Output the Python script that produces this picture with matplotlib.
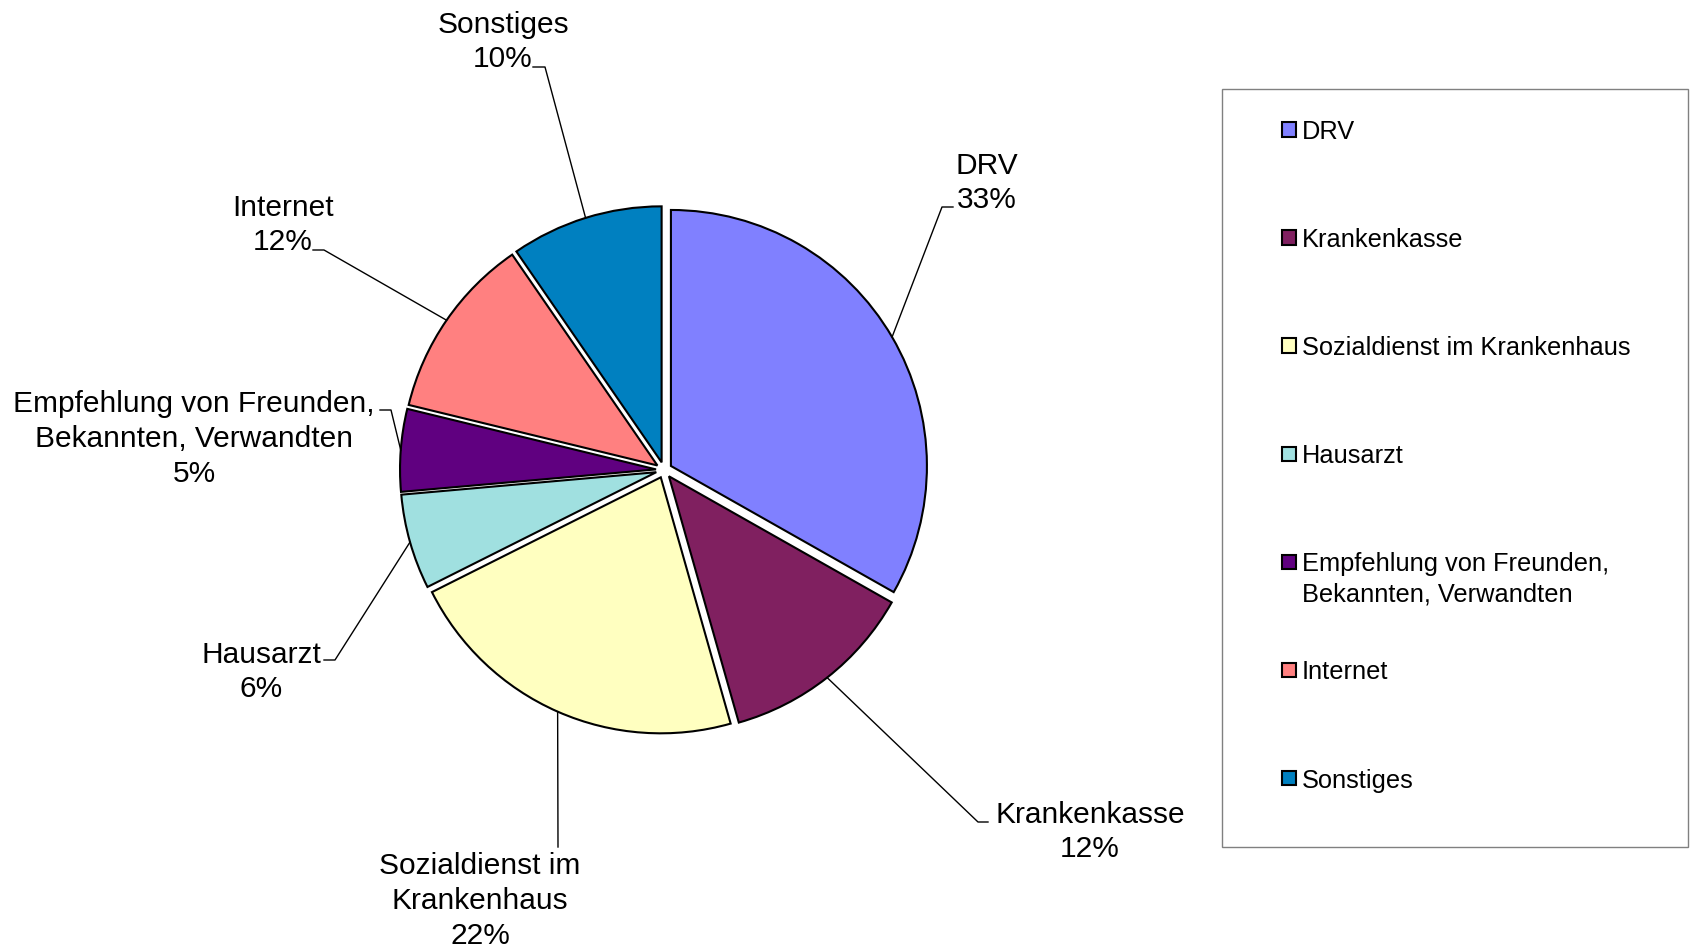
import numpy as np
import matplotlib.pyplot as plt
import matplotlib.patches as mpatches
from matplotlib.legend_handler import HandlerPatch

plt.rcParams['font.family'] = ['Liberation Sans', 'DejaVu Sans']

# Daten: Wie wurden die Teilnehmer aufmerksam? (Anteile in Prozent, aus dem Bild geschaetzt)
kategorien = ['DRV', 'Krankenkasse', 'Sozialdienst im Krankenhaus', 'Hausarzt',
              'Empfehlung von Freunden, Bekannten, Verwandten', 'Internet', 'Sonstiges']
anteile = [33.2, 12.4, 22.0, 6.0, 5.2, 11.6, 9.6]
farben = ['#8080FF', '#802060', '#FFFFC0', '#A0E0E0', '#600080', '#FF8080', '#0080C0']

# Beschriftungen mit Zeilenumbruechen wie im Original
beschriftungen = ['DRV', 'Krankenkasse', 'Sozialdienst im\nKrankenhaus', 'Hausarzt',
                  'Empfehlung von Freunden,\nBekannten, Verwandten', 'Internet', 'Sonstiges']
legenden_texte = ['DRV', 'Krankenkasse', 'Sozialdienst im Krankenhaus', 'Hausarzt',
                  'Empfehlung von Freunden,\nBekannten, Verwandten', 'Internet', 'Sonstiges']

# Layout in Pixeln (y von oben gemessen)
W, H = 1692, 948
text_pos = [(987, 183), (1090, 832), (480, 901), (261, 672), (194, 439), (283, 225), (503, 42)]
ticks = [((953, 207), (942, 207)), ((988, 822), (978, 822)), ((558, 847), (558, 847)),
         ((324, 660), (335, 660)), ((380, 410), (391, 410)), ((313, 250), (324, 250)),
         ((533, 67), (545, 67))]

fig = plt.figure(figsize=(16.92, 9.48), dpi=100)
ax = fig.add_axes([0, 0, 1, 1])

wedges, _ = ax.pie(anteile, colors=farben, startangle=90, counterclock=False,
                   explode=[8] * len(anteile), radius=256, center=(664, H - 470),
                   wedgeprops=dict(edgecolor='black', linewidth=1.5))
ax.set_xlim(0, W)
ax.set_ylim(0, H)
ax.set_aspect('equal')
ax.axis('off')

summe = sum(anteile)
for w, lab, val, (tx, ty), (p0, p1) in zip(wedges, beschriftungen, anteile, text_pos, ticks):
    ax.text(tx, H - ty, f'{lab}\n{val / summe * 100:.0f}%', ha='center', va='center',
            fontsize=21.5, linespacing=1.3, multialignment='center')
    mitte = np.deg2rad((w.theta1 + w.theta2) / 2)
    cx, cy = w.center
    px, py = cx + w.r * np.cos(mitte), cy + w.r * np.sin(mitte)
    ax.plot([p0[0], p1[0], px], [H - p0[1], H - p1[1], py], color='black', lw=1.0)

# Rahmen der Legende
ax.add_patch(mpatches.Rectangle((1222, H - 847), 466, 758, fill=False,
                                edgecolor='#808080', lw=1.0))


def marker_box(legend, orig_handle, xdescent, ydescent, width, height, fontsize):
    # Kaestchen auf Hoehe der ersten Textzeile
    size = 0.56 * fontsize
    yc = 1.06 * fontsize
    return mpatches.Rectangle((-xdescent + width - size, yc - size / 2), size, size)


labels = [t if '\n' in t else t + '\n' for t in legenden_texte]
leg = ax.legend(wedges, labels, handler_map={mpatches.Wedge: HandlerPatch(patch_func=marker_box)},
                loc='upper left', bbox_to_anchor=(1282, H - 120), bbox_transform=ax.transData,
                frameon=False, fontsize=18.3, handlelength=0.56, handletextpad=0.22,
                labelspacing=2.14, borderpad=0, borderaxespad=0)
for t in leg.get_texts():
    t.set_linespacing(1.3)

fig.savefig('out.png', dpi=100)
